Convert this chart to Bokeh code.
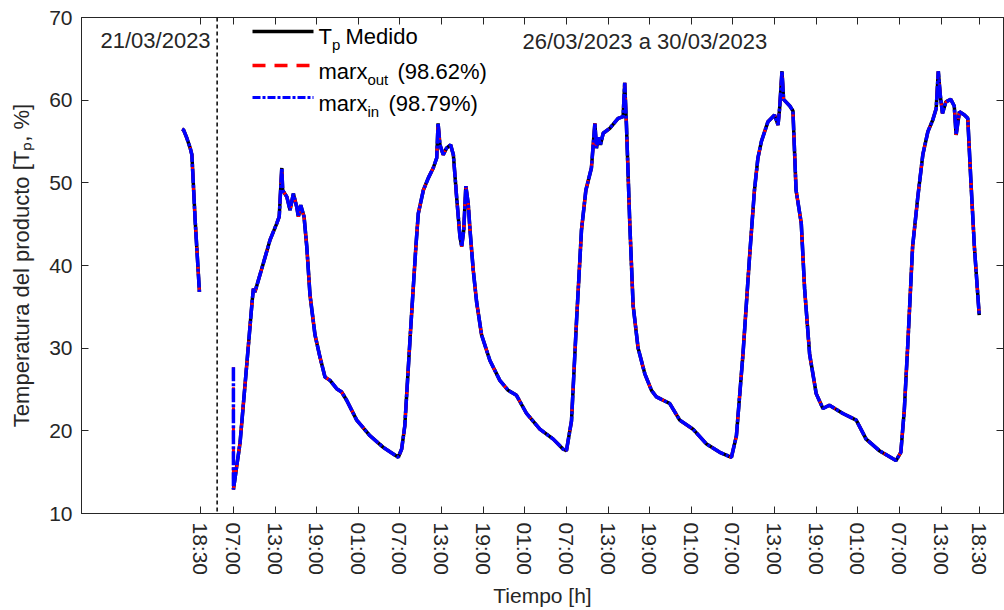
import math
from bokeh.plotting import figure
from bokeh.models import Range1d, FixedTicker, LinearAxis, Span, Label, Arrow
from bokeh.embed import file_html
from bokeh.resources import INLINE

# ---------------- data (hours on a compressed time axis) ----------------
# 21/03/2023 segment
seg1_t = [-0.39, -0.19, 0.29, 0.77, 1.01, 1.48, 2.1]
seg1_tp = [56.5, 56.4, 55.4, 54.2, 53.4, 45.5, 36.8]

# 26/03/2023 a 30/03/2023 segment
seg2_t = [7.0, 7.96, 8.97, 9.69, 9.88, 10.1, 11.32, 12.28, 13.25, 13.6, 13.97, 14.1,
          14.7, 15.16, 15.64, 16.12, 16.36, 16.7, 17.18, 17.57, 18.04, 18.76, 19.48,
          20.2, 20.92, 21.88, 22.6, 23.32, 24.77, 26.69, 28.6, 30.76, 31.25, 31.7,
          32.55, 33.3, 33.65, 34.37, 35.1, 35.8, 36.3, 36.5, 36.77, 37.24, 37.72,
          38.3, 38.7, 39.17, 39.65, 39.9, 40.2, 40.5, 40.84, 41.1, 41.56, 42.05,
          42.77, 43.97, 45.4, 46.6, 47.8, 49.25, 51.17, 53.1, 54.5, 55.0, 55.73,
          56.45, 57.17, 57.8, 58.6, 59.1, 59.33, 59.6, 59.9, 60.3, 61.25, 62.45, 63.17,
          63.4, 63.65, 64.13, 64.61, 65.33, 66.3, 67.26, 67.98, 69.9, 71.33, 73.25,
          75.2, 77.1, 78.78, 79.5, 80.45, 81.4, 82.1, 82.6, 83.1, 84.05, 85.0, 85.5,
          85.73, 86.07, 86.3, 87.2, 87.65, 88.1, 88.85, 89.33, 90.05, 91.0, 91.97,
          92.9, 94.85, 96.77, 98.2, 100.1, 102.5, 103.2, 103.7, 104.2, 104.9, 105.65,
          106.37, 107.1, 107.8, 108.3, 108.6, 108.9, 109.2, 109.7, 110.4, 110.9,
          111.17, 111.65, 112.37, 112.85, 113.3, 113.8, 114.5]
seg2_tp = [12.9, 18.6, 28.5, 35.6, 37.2, 36.8, 40.3, 43.1, 45.1, 45.9, 51.8, 49.1,
           48.3, 46.7, 48.7, 47.1, 45.9, 47.3, 45.9, 42.3, 36.4, 31.6, 28.9,
           26.5, 26.1, 25.1, 24.7, 23.7, 21.3, 19.4, 18.0, 16.8, 17.8, 20.6,
           32.4, 42.3, 46.3, 49.1, 50.6, 51.8, 53.0, 57.2, 54.6, 53.4, 54.2,
           54.6, 53.4, 48.3, 43.5, 42.3, 44.3, 49.6, 47.5, 44.3, 39.5, 35.6,
           31.6, 28.5, 26.1, 24.9, 24.3, 22.1, 20.2, 19.0, 17.8, 17.6, 21.2,
           33.2, 44.3, 49.1, 51.8, 57.2, 54.2, 55.5, 54.6, 56.0, 56.6, 57.8, 58.0,
           62.1, 57.0, 45.1, 35.2, 30.0, 26.9, 24.9, 24.1, 23.3, 21.3, 20.2,
           18.4, 17.4, 16.8, 19.4, 29.3, 41.1, 49.1, 53.0, 55.0, 57.4, 58.2, 57.0,
           59.0, 63.5, 60.1, 59.3, 58.7, 49.1, 45.1, 37.2, 29.3, 24.5, 22.7,
           23.1, 22.1, 21.3, 19.0, 17.6, 16.4, 17.4, 22.5, 30.4, 42.3, 48.3,
           53.4, 56.2, 57.6, 59.0, 63.5, 60.5, 58.4, 59.8, 60.1, 59.3,
           55.8, 58.6, 58.2, 57.8, 50.2, 42.3, 34.0]

# model outputs (overlap the measurement; they start from 27.7 at 07:00)
marx_out_t = [7.0] + seg2_t
marx_out_tp = [27.7] + seg2_tp
marx_in_t = [7.0] + seg2_t
marx_in_tp = [27.7] + seg2_tp

split_t = 4.65  # dashed separator between 21/03 and 26/03

x_ticks = [2.2, 7, 13, 19, 25, 31, 37, 43, 49, 55, 61, 67, 73, 79, 85, 91, 97, 103, 109, 114.5]
x_tick_labels = ["18:30", "07:00", "13:00", "19:00", "01:00", "07:00", "13:00", "19:00",
                 "01:00", "07:00", "13:00", "19:00", "01:00", "07:00", "13:00", "19:00",
                 "01:00", "07:00", "13:00", "18:30"]
y_ticks = [10, 20, 30, 40, 50, 60, 70]

legend_main = ["T", "marx", "marx"]
legend_sub = ["p", "out", "in"]
legend_tail = ["Medido", "(98.62%)", "(98.79%)"]
day1_text = "21/03/2023"
days_text = "26/03/2023 a 30/03/2023"
y_label = "Temperatura del producto [T\u209a, %]"

# ---------------- figure ----------------
FONT = "Liberation Sans"
TXT = "#262626"

p = figure(width=1004, height=610, x_range=Range1d(-14.9, 118.0), y_range=Range1d(10, 70),
           output_backend="svg", toolbar_location=None,
           min_border_left=81, min_border_right=1, min_border_top=17, min_border_bottom=88)
p.xgrid.visible = False
p.ygrid.visible = False
p.outline_line_color = TXT
p.background_fill_color = "white"
p.border_fill_color = "white"

def style_axis(ax):
    ax.major_tick_in = 7
    ax.major_tick_out = 0
    ax.minor_tick_in = 0
    ax.minor_tick_out = 0
    ax.axis_line_color = TXT
    ax.major_tick_line_color = TXT
    ax.minor_tick_line_color = TXT
    ax.major_label_text_color = TXT
    ax.major_label_text_font = FONT
    ax.axis_label_text_font = FONT
    ax.axis_label_text_color = TXT
    ax.axis_label_text_font_style = "normal"

xa = p.xaxis[0]
style_axis(xa)
xa.ticker = FixedTicker(ticks=x_ticks)
xa.major_label_overrides = {float(t): l for t, l in zip(x_ticks, x_tick_labels)}
xa.major_label_orientation = -math.pi / 2
xa.major_label_text_font_size = "21px"
xa.major_label_standoff = 9
xa.axis_label = "Tiempo [h]"
xa.axis_label_text_font_size = "21px"
xa.axis_label_standoff = 6

ya = p.yaxis[0]
style_axis(ya)
ya.ticker = FixedTicker(ticks=y_ticks)
ya.major_label_text_font_size = "21px"
ya.major_label_standoff = 9
ya.axis_label = y_label
ya.axis_label_text_font_size = "22px"
ya.axis_label_standoff = 12

# mirrored inward ticks on top and right (minor ticks only -> no labels)
top = LinearAxis(ticker=FixedTicker(ticks=[], minor_ticks=x_ticks))
style_axis(top)
top.minor_tick_in = 7
top.major_label_text_font_size = "0px"
p.add_layout(top, "above")
right = LinearAxis(ticker=FixedTicker(ticks=[], minor_ticks=y_ticks))
style_axis(right)
right.minor_tick_in = 7
right.major_label_text_font_size = "0px"
p.add_layout(right, "right")

# data lines
p.line(seg1_t, seg1_tp, line_color="black", line_width=3.5)
p.line(seg2_t, seg2_tp, line_color="black", line_width=3.5)
p.line(seg1_t, seg1_tp, line_color="red", line_width=3, line_dash="12 8")
p.line(marx_out_t, marx_out_tp, line_color="red", line_width=3, line_dash="12 8")
p.line(seg1_t, seg1_tp, line_color="blue", line_width=3.5, line_dash="14 2 3 2")
p.line(marx_in_t, marx_in_tp, line_color="blue", line_width=3.5, line_dash="14 2 3 2")

p.add_layout(Span(location=split_t, dimension="height", line_color="black",
                  line_width=1.5, line_dash="4 3"))

# ---------------- texts (screen units relative to the frame) ----------------
FR_L, FR_B = 81, 522
def sx(cx):
    return cx - FR_L
def sy(cy):
    return FR_B - cy

def lab(text, cx, cy, size, color=TXT):
    p.add_layout(Label(x=sx(cx), y=sy(cy), x_units="screen", y_units="screen", text=text,
                       text_font=FONT, text_font_size=f"{size}px", text_color=color,
                       text_align="left", text_baseline="alphabetic"))

lab(day1_text, 100, 49, 22)
lab(days_text, 522, 50, 22)

# Arial-like advance widths (per 1000 em)
W = {"T": 611, "m": 833, "a": 556, "r": 333, "x": 500}
def tw(s, size):
    return sum(W.get(ch, 556) for ch in s) * size / 1000.0

# legend
legend_rows = [(40, 45), (74, 80), (106, 112)]
legend_styles = [dict(line_color="black", line_width=3.5),
                 dict(line_color="red", line_width=3.5, line_dash="13 9"),
                 dict(line_color="blue", line_width=3, line_dash="8 2 3 2")]
tail_x = [345, 397, 388]
for (ly, by), st, m, s, t, txx in zip(legend_rows, legend_styles, legend_main, legend_sub,
                                      legend_tail, tail_x):
    p.add_layout(Arrow(start=None, end=None, x_start=sx(252), y_start=sy(ly),
                       x_end=sx(313), y_end=sy(ly), start_units="screen",
                       end_units="screen", **st))
    lab(m, 318, by, 22, color="black")
    lab(s, 318 + tw(m, 22), by + 8, 15, color="black")
    lab(t, txx, by, 22, color="black")

open("out.html", "w").write(file_html(p, INLINE))
